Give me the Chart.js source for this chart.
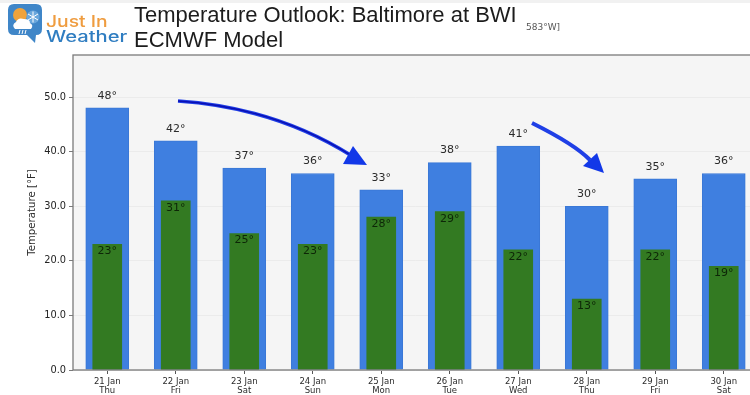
<!DOCTYPE html>
<html>
<head>
<meta charset="utf-8">
<script src="https://cdn.jsdelivr.net/npm/chart.js@4"></script>
<style>
  html, body { margin: 0; padding: 0; background: #fff; overflow: hidden; }
  #wrap { position: relative; width: 750px; height: 395px; overflow: hidden; }
  #topstrip { position: absolute; left: 0; top: 0; width: 750px; height: 3px; background: #f1f1f1; }
  canvas { position: absolute; left: 0; top: 0; }
  svg { position: absolute; left: 0; top: 0; }
  .title { position: absolute; left: 134px; font-family: "Liberation Sans", sans-serif; font-size: 22px; color: #1c1c1c; white-space: nowrap; }
  .coord { position: absolute; left: 526px; top: 22px; font: 9px "DejaVu Sans", sans-serif; color: #555; }
  .logo { position: absolute; left: 46px; font-family: "Inter", sans-serif; font-weight: 500; white-space: nowrap; transform-origin: left top; }
</style>
</head>
<body>
<div id="wrap">
  <div id="topstrip"></div>
  <canvas id="tempChart" width="760" height="395"></canvas>
  <div class="title" style="top:2px">Temperature Outlook: Baltimore at BWI</div>
  <div class="title" style="top:27px">ECMWF Model</div>
  <div class="coord">583°W]</div>
  <svg width="750" height="395">
    <!-- logo -->
    <path d="M14 4 H36 Q42 4 42 10 V29 Q42 35 36 35 L35 43 L27 35 H14 Q8 35 8 29 V10 Q8 4 14 4 Z" fill="#3f86c8"/>
    <circle cx="20" cy="15" r="7" fill="#f0a33c"/>
    <circle cx="33" cy="17" r="6.5" fill="#6aa7dc"/>
    <path d="M15 29 Q11 25 16 22 Q18 17 24 19 Q30 19 30 23 Q34 25 31 29 Z" fill="#fff"/>
    <g stroke="#fff" stroke-width="1">
      <path d="M33 11.5 V22.5 M28 14 L38 20 M38 14 L28 20"/>
      <path d="M20 30 L19 34 M23 30 L22 34 M26 30 L25 34"/>
    </g>
    <!-- arrows -->
    <g fill="none" stroke-linecap="butt">
      <path d="M178 101 Q275 107.5 352 156" stroke="#1f3fe6" stroke-width="3.6"/>
      <path d="M178 101 Q275 107.5 352 156" stroke="#0a0fb4" stroke-width="1.4"/>
      <path d="M532 123 Q575 144.5 590 160" stroke="#1f3fe6" stroke-width="4"/>
    </g>
    <path d="M367 165 L353 146 L343 164 Z" fill="#1238e8"/>
    <path d="M604 173 L597 153 L583 166 Z" fill="#1238e8"/>
  </svg>
  <div class="logo" style="top:11px;font-size:16.5px;color:#ef9c3f;transform:scaleX(1.17)">Just In</div>
  <div class="logo" style="top:27px;font-size:15.5px;color:#2f7dc1;transform:scaleX(1.3)">Weather</div>
</div>
<script>
const days = ['21 Jan','22 Jan','23 Jan','24 Jan','25 Jan','26 Jan','27 Jan','28 Jan','29 Jan','30 Jan'];
const weekdays = ['Thu','Fri','Sat','Sun','Mon','Tue','Wed','Thu','Fri','Sat'];
const highs = [48,42,37,36,33,38,41,30,35,36];
const lows = [23,31,25,23,28,29,22,13,22,19];

const labels = days.map((d, i) => [d, weekdays[i]]);

const plotFrame = {
  id: 'plotFrame',
  beforeDraw(chart) {
    const a = chart.chartArea;
    chart.ctx.fillStyle = '#f5f5f5';
    chart.ctx.fillRect(a.left, a.top, a.width, a.height);
  },
  afterDatasetsDraw(chart) {
    const a = chart.chartArea, ctx = chart.ctx;
    ctx.strokeStyle = '#7a7a7a';
    ctx.lineWidth = 1.3;
    ctx.strokeRect(a.left, a.top, a.width, a.height);
  }
};

const valueLabels = {
  id: 'valueLabels',
  afterDraw(chart) {
    const ctx = chart.ctx;
    ctx.font = '11px "DejaVu Sans"';
    ctx.textAlign = 'center';
    ctx.textBaseline = 'middle';
    chart.getDatasetMeta(1).data.forEach((bar, i) => {
      ctx.fillStyle = '#2b2b2b';
      ctx.fillText(highs[i] + '°', bar.x, bar.y - 12);
    });
    chart.getDatasetMeta(0).data.forEach((bar, i) => {
      ctx.fillStyle = '#0d2607';
      ctx.fillText(lows[i] + '°', bar.x, bar.y + 7);
    });
  }
};

new Chart(document.getElementById('tempChart').getContext('2d'), {
  type: 'bar',
  data: {
    labels: labels,
    datasets: [
      { label: 'Low', data: lows, backgroundColor: '#337a22', barThickness: 29, grouped: false, order: 1 },
      { label: 'High', data: highs, backgroundColor: '#3f7fe0', borderColor: '#3a78d6', borderWidth: 1, barThickness: 43, grouped: false, order: 2 }
    ]
  },
  options: {
    responsive: false,
    animation: false,
    layout: { padding: { left: 26, right: 2, top: 55, bottom: 0 } },
    plugins: { legend: { display: false }, title: { display: false }, tooltip: { enabled: false } },
    scales: {
      x: {
        afterFit(scale) { scale.height = 25; },
        grid: { offset: false, drawOnChartArea: false, tickColor: '#555', tickLength: 4 },
        border: { display: false },
        ticks: { color: '#2b2b2b', font: { family: '"DejaVu Sans"', size: 8.5, lineHeight: 1.12 }, maxRotation: 0, autoSkip: false, padding: 3 }
      },
      y: {
        min: 0,
        max: 57.7,
        afterFit(scale) { scale.width = 47; },
        grid: { color: '#ebebeb', tickColor: '#7a7a7a', tickLength: 4 },
        border: { display: false },
        title: { display: true, text: 'Temperature [°F]', color: '#2b2b2b', font: { family: '"DejaVu Sans"', size: 10.2 }, padding: 0 },
        ticks: {
          stepSize: 10,
          includeBounds: false,
          color: '#222',
          font: { family: '"DejaVu Sans"', size: 9.8 },
          padding: 3,
          callback: v => v.toFixed(1)
        }
      }
    }
  },
  plugins: [plotFrame, valueLabels]
});
</script>
</body>
</html>
